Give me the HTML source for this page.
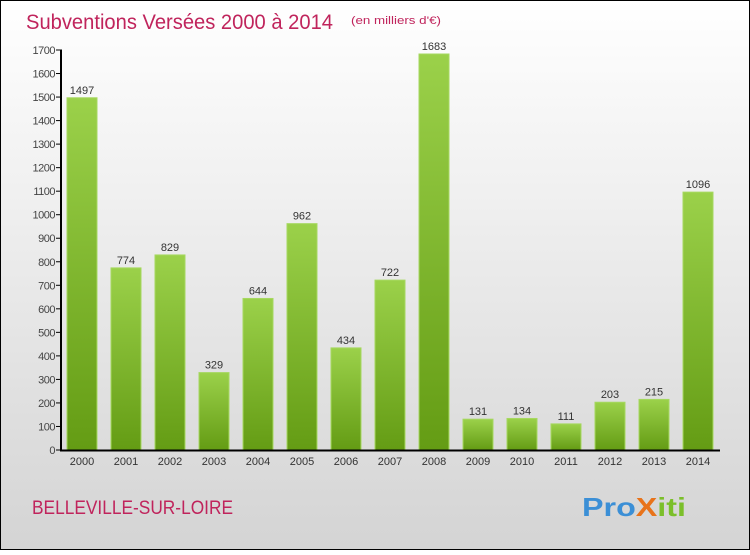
<!DOCTYPE html>
<html><head><meta charset="utf-8"><style>
html,body{margin:0;padding:0}
body{width:750px;height:550px;overflow:hidden;font-family:"Liberation Sans",sans-serif}
</style></head><body>
<svg id="c" width="750" height="550" xmlns="http://www.w3.org/2000/svg">
<defs>
<linearGradient id="bg" x1="0" y1="0" x2="0" y2="1"><stop offset="0" stop-color="#ffffff"/><stop offset="1" stop-color="#d4d4d4"/></linearGradient>
<linearGradient id="bar" x1="0" y1="0" x2="0" y2="1"><stop offset="0" stop-color="#9bd14a"/><stop offset="1" stop-color="#649c14"/></linearGradient>
</defs>
<rect x="0.5" y="0.5" width="749" height="549" fill="url(#bg)" stroke="#000"/>
<text x="26" y="29" font-size="21" fill="#c0245c" textLength="307" lengthAdjust="spacingAndGlyphs">Subventions Versées 2000 à 2014</text>
<text x="351" y="24" font-size="11" fill="#c0245c" textLength="90" lengthAdjust="spacingAndGlyphs">(en milliers d'€)</text>
<text x="32" y="514" font-size="19" fill="#c0245c" textLength="201" lengthAdjust="spacingAndGlyphs">BELLEVILLE-SUR-LOIRE</text>
<g font-size="26" font-weight="bold">
<text x="582" y="516" textLength="104" lengthAdjust="spacingAndGlyphs"><tspan fill="#3b8fd6">Pro</tspan><tspan fill="#e8731a">X</tspan><tspan fill="#7bbf2a">iti</tspan></text>
</g>
<g id="plot"></g>
</svg>
<script>
const categories=["2000","2001","2002","2003","2004","2005","2006","2007","2008","2009","2010","2011","2012","2013","2014"];
const values=[1497,774,829,329,644,962,434,722,1683,131,134,111,203,215,1096];
const yTicks=[0,100,200,300,400,500,600,700,800,900,1000,1100,1200,1300,1400,1500,1600,1700];
const NS="http://www.w3.org/2000/svg";
const g=document.getElementById('plot');
const y=v=>450-v*400/1700;
const x=i=>82+i*44;
function mk(t,a,txt){const e=document.createElementNS(NS,t);for(const k in a)e.setAttribute(k,a[k]);if(txt!==undefined)e.textContent=txt;g.appendChild(e);return e;}
yTicks.forEach(v=>{
 const t=mk('line',{x1:56,x2:62,y1:y(v),y2:y(v),stroke:'#000'});
 
 
 const l=mk('text',{x:55,y:y(v)+4,'font-size':11,'text-anchor':'end',fill:'#444','letter-spacing':'-0.5'},v);
 
 
});
values.forEach((v,i)=>{
 const b=mk('rect',{x:x(i)-15,y:y(v),width:30,height:450-y(v),fill:'url(#bar)',stroke:'#a6d860','stroke-width':1});
 
 
 const vl=mk('text',{x:x(i),y:y(v)-4,'font-size':11,'text-anchor':'middle',fill:'#333'},v);
 
 
 const cl=mk('text',{x:x(i),y:465,'font-size':11,'text-anchor':'middle',fill:'#333'},categories[i]);
 
 
});
const ax=mk('line',{x1:61,x2:61,y1:y(1700),y2:451,stroke:'#000','stroke-width':2});


const xa=mk('line',{x1:60,x2:720,y1:450.5,y2:450.5,stroke:'#000','stroke-width':2});


</script>
</body></html>
